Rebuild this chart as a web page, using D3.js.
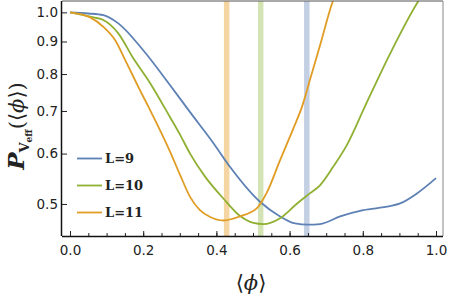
<!DOCTYPE html>
<html><head><meta charset="utf-8">
<script src="https://cdn.jsdelivr.net/npm/d3@7"></script>
<style>body{margin:0;background:#fff}svg{display:block}</style>
</head><body>
<svg id="c" width="449" height="299"></svg>
<script>
// ---- data ----
const series = ["L=9", "L=10", "L=11"];
const phi9 = [0, 0.05, 0.091, 0.132, 0.2, 0.273, 0.328, 0.392, 0.437, 0.519, 0.574, 0.615, 0.65, 0.683, 0.738, 0.801, 0.874, 0.902, 0.947, 1.0];
const p9   = [1.0, 0.996, 0.99, 0.961, 0.872, 0.769, 0.697, 0.623, 0.572, 0.504, 0.478, 0.466, 0.464, 0.465, 0.478, 0.489, 0.496, 0.501, 0.519, 0.549];
const phi10 = [0, 0.064, 0.091, 0.132, 0.173, 0.219, 0.273, 0.301, 0.328, 0.369, 0.419, 0.464, 0.501, 0.528, 0.574, 0.619, 0.656, 0.683, 0.719, 0.756, 0.81, 0.874, 0.952, 0.97];
const p10   = [1.0, 0.982, 0.973, 0.927, 0.847, 0.774, 0.685, 0.642, 0.60, 0.552, 0.510, 0.479, 0.467, 0.465, 0.475, 0.50, 0.52, 0.535, 0.572, 0.618, 0.72, 0.86, 1.042, 1.08];
const phi11 = [0, 0.055, 0.091, 0.123, 0.155, 0.191, 0.219, 0.273, 0.301, 0.328, 0.355, 0.383, 0.419, 0.464, 0.51, 0.537, 0.574, 0.612, 0.634, 0.656, 0.683, 0.719, 0.73];
const p11   = [1.0, 0.982, 0.949, 0.905, 0.832, 0.755, 0.702, 0.605, 0.555, 0.513, 0.489, 0.477, 0.471, 0.478, 0.492, 0.52, 0.586, 0.661, 0.711, 0.785, 0.887, 1.044, 1.08];
const bandPhi = [0.428, 0.521, 0.647];      // vertical markers for L=11, L=10, L=9
const xTicks = [0.0, 0.2, 0.4, 0.6, 0.8, 1.0];
const yTicks = [0.5, 0.6, 0.7, 0.8, 0.9, 1.0];

const colors = {"L=9": "#5E81B5", "L=10": "#8FB032", "L=11": "#E19C24"};
const bandColors = ["#F5D6A2", "#D3E3B3", "#C3D0E3"];

// ---- layout ----
const L = 62, R = 443, T = 1, B = 236;
const svg = d3.select("#c");
const x = d3.scaleLinear().domain([-0.02186, 1.0191]).range([L, R]);
const y = d3.scaleLog().domain([0.4453, 1.042]).range([B, T]);

svg.append("defs").append("clipPath").attr("id", "clip")
  .append("rect").attr("x", L).attr("y", T).attr("width", R - L).attr("height", B - T);

const plot = svg.append("g").attr("clip-path", "url(#clip)");

// bands
bandPhi.forEach((b, i) => {
  plot.append("line").attr("x1", x(b)).attr("x2", x(b)).attr("y1", T).attr("y2", B)
    .attr("stroke", bandColors[i]).attr("stroke-width", 5.5);
});

// curves
const data = {"L=9": d3.zip(phi9, p9), "L=10": d3.zip(phi10, p10), "L=11": d3.zip(phi11, p11)};
const line = d3.line().x(d => x(d[0])).y(d => y(d[1])).curve(d3.curveMonotoneX);
series.forEach(s => {
  plot.append("path").attr("d", line(data[s])).attr("fill", "none")
    .attr("stroke", colors[s]).attr("stroke-width", 1.8);
});

// frame
svg.append("line").attr("x1", L).attr("x2", R).attr("y1", T).attr("y2", T).attr("stroke", "#555").attr("stroke-width", 1);
svg.append("line").attr("x1", R).attr("x2", R).attr("y1", T).attr("y2", B).attr("stroke", "#888").attr("stroke-width", 1);

// axes
const xMinor = d3.range(0, 1.0001, 0.05);
const gx = svg.append("g").attr("class", "ax").attr("transform", `translate(0,${B})`);
gx.call(d3.axisBottom(x).tickValues(xMinor).tickSize(-3).tickFormat(""));
gx.call(g => g.select(".domain").remove());
const gx2 = svg.append("g").attr("class", "ax").attr("transform", `translate(0,${B})`);
gx2.call(d3.axisBottom(x).tickValues(xTicks).tickSize(-5).tickPadding(9).tickFormat(d3.format(".1f")));
gx2.select(".domain").attr("d", `M${L},0.5H${R}`).attr("stroke", "#111").attr("stroke-width", 1.5);

const gy = svg.append("g").attr("class", "ax").attr("transform", `translate(${L},0)`);
gy.call(d3.axisLeft(y).tickValues(yTicks).tickSize(-5).tickPadding(4).tickFormat(d3.format(".1f")));
gy.select(".domain").attr("d", `M-0.5,${T}V${B}`).attr("stroke", "#111").attr("stroke-width", 1.5);
svg.selectAll(".ax .tick line").attr("stroke", "#222");

svg.selectAll(".tick text").attr("font-family", "DejaVu Sans").attr("font-size", 13.5).attr("fill", "#222");

// legend
const legY = [158.5, 185.5, 212.5];
series.forEach((s, i) => {
  svg.append("line").attr("x1", 77).attr("x2", 102).attr("y1", legY[i]).attr("y2", legY[i])
    .attr("stroke", colors[s]).attr("stroke-width", 1.8);
  svg.append("text").attr("x", 105).attr("y", legY[i] + 4.8).text(s)
    .attr("font-family", "DejaVu Serif").attr("font-weight", "bold").attr("font-size", 13).attr("fill", "#222");
});

// x label
svg.append("text").attr("x", 251).attr("y", 290).attr("text-anchor", "middle")
  .attr("font-family", "DejaVu Serif").attr("font-size", 21).attr("fill", "#222")
  .html('⟨<tspan font-style="italic">ϕ</tspan>⟩');

// y label
const yl = svg.append("text").attr("transform", "translate(24,126) rotate(-90)")
  .attr("text-anchor", "middle").attr("font-family", "DejaVu Serif").attr("fill", "#222").attr("font-size", 21);
yl.append("tspan").attr("font-style", "italic").attr("font-weight", "bold").attr("font-size", 23).text("P");
yl.append("tspan").attr("font-size", 13).attr("dy", 5).attr("font-weight", "bold").text("V");
yl.append("tspan").attr("font-size", 9).attr("dy", 3).attr("font-weight", "bold").text("eff");
yl.append("tspan").attr("dy", -8).text("(⟨");
yl.append("tspan").attr("font-style", "italic").text("ϕ");
yl.append("tspan").text("⟩)");
</script>
</body></html>
